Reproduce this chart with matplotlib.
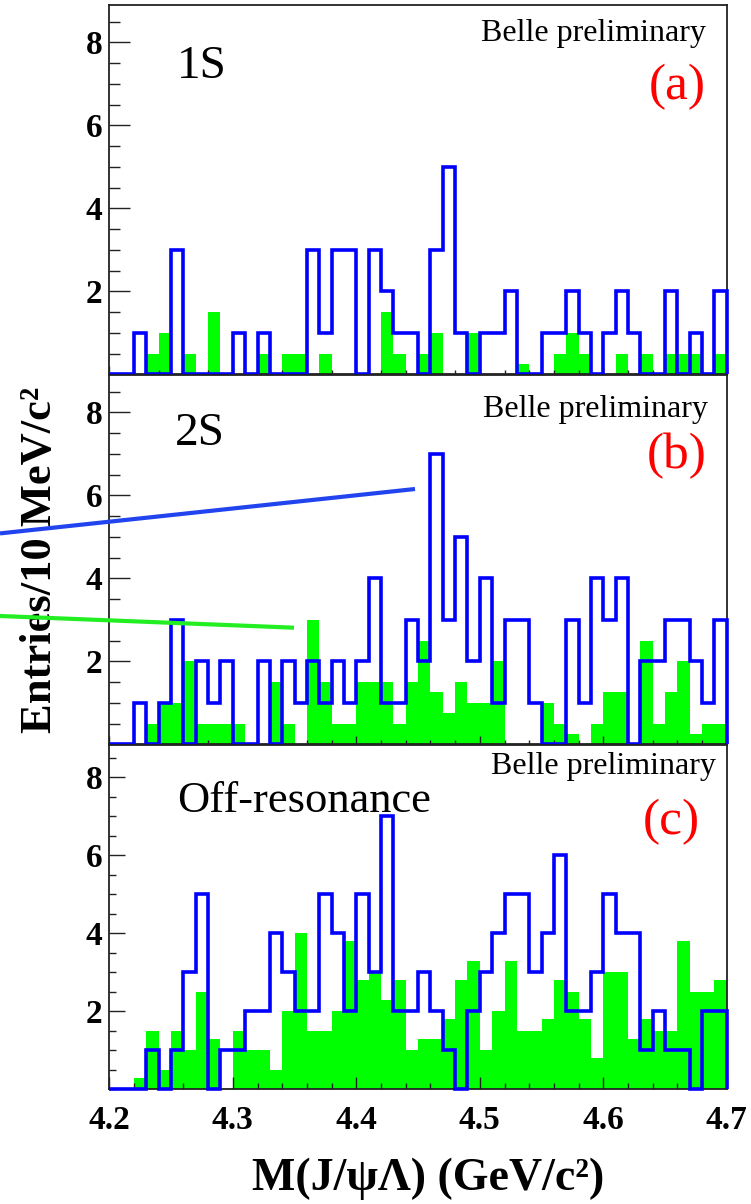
import numpy as np
import matplotlib
matplotlib.use("Agg")
import matplotlib.pyplot as plt
from matplotlib.lines import Line2D
from matplotlib.ticker import MultipleLocator, FixedLocator

# 10 MeV bins from 4.2 to 4.7 GeV
bin_edges = np.round(np.linspace(4.2, 4.7, 51), 3)

# Y(1S): data and scaled sideband
data_1s = [0, 0, 1, 0, 0, 3, 0, 0, 0, 0,
           1, 0, 1, 0, 0, 0, 3, 1, 3, 3,
           0, 3, 2, 1, 1, 0, 3, 5, 1, 0,
           1, 1, 2, 0, 0, 1, 1, 2, 1, 0,
           1, 2, 1, 0, 0, 2, 0, 1, 0, 2]
bkg_1s = [0, 0, 0, 0.5, 1.0, 0, 0.5, 0, 1.5, 0,
          0, 0, 0.5, 0, 0.5, 0.5, 0, 0.5, 0, 0,
          0, 0, 1.5, 0.5, 0, 0.5, 1.0, 0, 0, 1.0,
          0, 0, 0, 0.25, 0, 0, 0.5, 1.0, 0.5, 0,
          0, 0.5, 0, 0.5, 0, 0.5, 0.5, 0.5, 0, 0.5]

# Y(2S)
data_2s = [0, 0, 1, 0, 1, 3, 0, 2, 1, 2,
           0, 0, 2, 0, 2, 1, 2, 1, 2, 1,
           2, 4, 1, 1, 3, 2, 7, 3, 5, 2,
           4, 1, 3, 3, 1, 0, 0, 3, 1, 4,
           3, 4, 0, 2, 2, 3, 3, 2, 1, 3]
bkg_2s = [0, 0, 0, 0.5, 1.0, 1.0, 2.0, 0.5, 0.5, 0.5,
          0.5, 0, 0, 1.5, 0.5, 0, 3.0, 1.5, 0.5, 0.5,
          1.5, 1.5, 1.5, 0.5, 1.5, 2.5, 1.25, 0.75, 1.5, 1.0,
          1.0, 2.0, 0, 0, 0, 1.0, 0.5, 0.25, 0, 0.5,
          1.25, 1.25, 0, 2.5, 0.5, 1.25, 2.0, 0.25, 0.5, 0.5]

# Off-resonance
data_off = [0, 0, 0, 1, 0, 1, 3, 5, 0, 1,
            1, 2, 2, 4, 3, 2, 2, 5, 4, 2,
            5, 3, 7, 2, 2, 3, 2, 1, 0, 2,
            3, 4, 5, 5, 3, 4, 6, 2, 2, 3,
            5, 4, 4, 1, 2, 1, 1, 0, 2, 2]
bkg_off = [0, 0, 0.28, 1.5, 0.5, 1.5, 1.0, 2.5, 1.3, 0,
           1.5, 1.0, 1.0, 0.5, 2.0, 4.0, 1.5, 1.5, 2.0, 3.8,
           2.8, 3.0, 2.3, 2.8, 1.0, 1.3, 1.3, 1.8, 2.8, 3.3,
           1.0, 2.0, 3.3, 1.5, 1.5, 1.8, 2.8, 2.5, 1.8, 0.8,
           3.0, 3.0, 1.3, 1.8, 1.5, 1.5, 3.8, 2.5, 2.5, 2.8]

y_tick_values = [2, 4, 6, 8]
x_tick_values = [4.2, 4.3, 4.4, 4.5, 4.6, 4.7]
x_tick_labels = ["4.2", "4.3", "4.4", "4.5", "4.6", "4.7"]

W, H = 751, 1204
SERIF = ["Liberation Serif", "DejaVu Serif"]
BLUE = "#0000FF"
GREEN = "#00FF00"

fig = plt.figure(figsize=(W / 100, H / 100), dpi=100)


def fx(px):
    return px / W


def fy(py):
    return 1 - py / H


left_px, right_px = 109.3, 726.8


def make_panel(top_px, base_px, ymax, data, bkg, ymaj_len, ymin_len, xmaj_len, xmin_len, show_x):
    ax = fig.add_axes([fx(left_px), fy(base_px), (right_px - left_px) / W, (base_px - top_px) / H])
    ax.stairs(bkg, bin_edges, fill=True, color=GREEN, linewidth=0, zorder=1)
    ax.stairs(data, bin_edges, color=BLUE, linewidth=2.6, baseline=0, zorder=3, clip_on=False)
    ax.set_xlim(4.2, 4.7)
    ax.set_ylim(0, ymax)
    ax.yaxis.set_major_locator(FixedLocator(y_tick_values))
    ax.yaxis.set_minor_locator(MultipleLocator(0.5))
    ax.xaxis.set_major_locator(FixedLocator(x_tick_values))
    ax.xaxis.set_minor_locator(MultipleLocator(0.02))
    ax.tick_params(axis="y", which="major", direction="in", length=ymaj_len, width=1.0,
                   pad=5, labelsize=24, colors="#222222")
    ax.tick_params(axis="y", which="minor", direction="in", length=ymin_len, width=1.0, colors="#222222")
    ax.tick_params(axis="x", which="major", direction="in", length=xmaj_len, width=1.0,
                   pad=11, labelsize=24, colors="#222222")
    ax.tick_params(axis="x", which="minor", direction="in", length=xmin_len, width=1.0, colors="#222222")
    ax.tick_params(top=False, right=False, which="both")
    ax.set_yticklabels([str(v) for v in y_tick_values], fontfamily=SERIF, fontweight="bold", color="black")
    if show_x:
        ax.set_xticklabels(x_tick_labels, fontfamily=SERIF, fontweight="bold", color="black")
    else:
        ax.set_xticklabels([])
    for sp in ax.spines.values():
        sp.set_linewidth(1.3)
        sp.set_color("#222222")
    return ax


ax_a = make_panel(5, 374.3, 8.9, data_1s, bkg_1s, 15, 8, 6, 3, False)
ax_b = make_panel(375, 744.3, 8.9, data_2s, bkg_2s, 15, 8, 6, 3, False)
ax_c = make_panel(745, 1089.3, 8.83, data_off, bkg_off, 11.5, 5, 8.5, 4.3, True)

# panel annotations
fig.text(fx(706), fy(41), "Belle preliminary", ha="right", va="baseline", fontsize=23, family=SERIF)
fig.text(fx(708), fy(417), "Belle preliminary", ha="right", va="baseline", fontsize=23, family=SERIF)
fig.text(fx(716), fy(774), "Belle preliminary", ha="right", va="baseline", fontsize=23, family=SERIF)

fig.text(fx(706), fy(87), "(a)", ha="right", va="center", fontsize=37, family=SERIF, color="#FF0000")
fig.text(fx(707), fy(456), "(b)", ha="right", va="center", fontsize=37, family=SERIF, color="#FF0000")
fig.text(fx(700), fy(822), "(c)", ha="right", va="center", fontsize=37, family=SERIF, color="#FF0000")

fig.text(fx(177), fy(78), "1S", ha="left", va="baseline", fontsize=34, family=SERIF)
fig.text(fx(175), fy(445), "2S", ha="left", va="baseline", fontsize=34, family=SERIF)
fig.text(fx(177), fy(812), "Off-resonance", ha="left", va="baseline", fontsize=32, family=SERIF)

# axis titles
fig.text(fx(428), fy(1190), "M(J/\u03c8\u039b) (GeV/c\u00b2)", ha="center", va="baseline",
         fontsize=33, fontweight="bold", family=SERIF)
fig.text(fx(40), fy(560), "Entries/10 MeV/c\u00b2", ha="center", va="center", rotation=90,
         fontsize=32, fontweight="bold", family=SERIF)

# pointer lines from the slide legend
fig.add_artist(Line2D([fx(0), fx(415)], [fy(533.4), fy(489)], color="#2244EE", linewidth=3.0,
                      solid_capstyle="butt", zorder=10))
fig.add_artist(Line2D([fx(0), fx(294)], [fy(616), fy(627.7)], color="#22EE22", linewidth=3.0,
                      solid_capstyle="butt", zorder=10))

fig.savefig("out.png", dpi=100)
